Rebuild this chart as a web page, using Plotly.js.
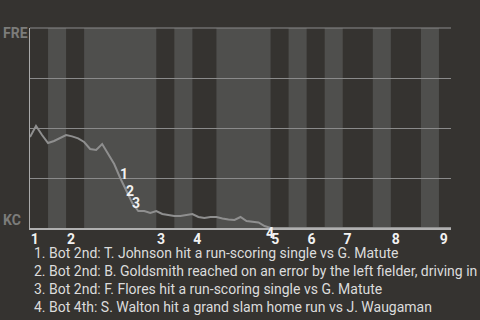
<!DOCTYPE html>
<html>
<head>
<meta charset="utf-8">
<script src="https://cdn.plot.ly/plotly-3.0.1.min.js"></script>
<style>html,body{margin:0;padding:0;background:#353330;}#chart{width:480px;height:320px;}</style>
</head>
<body>
<div id="chart"></div>
<script>
// FRE win probability after each plate appearance (0 = KC wins, 1 = FRE wins)
const winProb = [
  0.455, 0.51, 0.465, 0.425, 0.435, 0.45, 0.465, 0.458, 0.448, 0.43,
  0.395, 0.39, 0.42, 0.37, 0.32, 0.25, 0.185, 0.125, 0.085, 0.085,
  0.075, 0.085, 0.07, 0.065, 0.06, 0.06, 0.065, 0.07, 0.055, 0.05,
  0.055, 0.055, 0.048, 0.042, 0.04, 0.055, 0.035, 0.03, 0.028, 0.01,
  0, 0, 0, 0, 0, 0, 0, 0, 0, 0,
  0, 0, 0, 0, 0, 0, 0, 0, 0, 0,
  0, 0, 0, 0, 0, 0, 0, 0, 0, 0,
  0
];
// half-inning boundaries (plate-appearance index)
const halfInningBounds = [0, 3, 6, 9, 21, 24, 27, 31, 40, 43, 46, 49, 52, 57, 60, 65, 68, 70];
// inning start indices and labels
const inningStarts = [0, 6, 21, 27, 40, 46, 52, 60, 68];
const inningLabels = ["1", "2", "3", "4", "5", "6", "7", "8", "9"];
// key events
const eventIndex = [15, 16, 17, 40];
const eventLabels = ["1", "2", "3", "4"];
const eventTexts = [
  "1. Bot 2nd: T. Johnson hit a run-scoring single vs G. Matute",
  "2. Bot 2nd: B. Goldsmith reached on an error by the left fielder, driving in a run",
  "3. Bot 2nd: F. Flores hit a run-scoring single vs G. Matute",
  "4. Bot 4th: S. Walton hit a grand slam home run vs J. Waugaman"
];
const teamTop = "FRE";
const teamBottom = "KC";

const xs = winProb.map((_, i) => i);
const shapes = [];
for (let k = 0; k < halfInningBounds.length - 1; k++) {
  if (k % 2 === 1) {
    shapes.push({type: 'rect', xref: 'x', yref: 'paper', x0: halfInningBounds[k], x1: halfInningBounds[k + 1],
      y0: 0, y1: 1, fillcolor: '#4f4f4d', line: {width: 0}, layer: 'below'});
  }
}
shapes.push({type: 'line', xref: 'paper', yref: 'paper', x0: 0, x1: 1, y0: 1, y1: 1, line: {color: '#8a8a8a', width: 1}, layer: 'below'});
const evShift = [[4, 4], [4, 0], [4, 0], [-1, -5]];
const annotations = [];
eventIndex.forEach((ix, k) => {
  annotations.push({x: ix, y: winProb[ix], xref: 'x', yref: 'y', text: eventLabels[k], showarrow: false,
    xshift: evShift[k][0], yshift: evShift[k][1], font: {family: 'Roboto', size: 14, color: '#f2f2f2', weight: 'bold'}});
});
annotations.push({x: 0, y: 1, xref: 'paper', yref: 'paper', xanchor: 'center', yanchor: 'middle', xshift: -15, yshift: -5,
  text: teamTop, showarrow: false, font: {family: 'Roboto', size: 14, color: '#7c7c7a', weight: 'bold'}});
annotations.push({x: 0, y: 0, xref: 'paper', yref: 'paper', xanchor: 'center', yanchor: 'middle', xshift: -18, yshift: 8,
  text: teamBottom, showarrow: false, font: {family: 'Roboto', size: 14, color: '#7c7c7a', weight: 'bold'}});
const lineY = [-0.125, -0.215, -0.305, -0.395];
eventTexts.forEach((t, k) => {
  annotations.push({x: 0.005, y: lineY[k], xref: 'paper', yref: 'paper', xanchor: 'left', yanchor: 'middle', text: t,
    showarrow: false, font: {family: 'Roboto', size: 14, color: '#dcdcdc'}});
});

const trace = {x: xs, y: winProb, type: 'scatter', mode: 'lines', line: {color: '#8f8f8f', width: 2}, hoverinfo: 'skip', cliponaxis: false};
const layout = {
  width: 480, height: 320,
  margin: {l: 30, r: 29, t: 28, b: 92},
  paper_bgcolor: '#353330', plot_bgcolor: '#353330',
  showlegend: false,
  xaxis: {range: [0, 70], showgrid: false, zeroline: false, showline: true, linecolor: '#b0b0b0', linewidth: 2,
    tickmode: 'array', tickvals: inningStarts.map(v => v + 0.8), ticktext: inningLabels, ticks: '', ticklabelstandoff: -3,
    tickfont: {family: 'Roboto', size: 14, color: '#f2f2f2', weight: 'bold'}},
  yaxis: {range: [0, 1], showgrid: true, gridcolor: '#8a8a8a', gridwidth: 1, tickvals: [0.25, 0.5, 0.75, 1],
    showticklabels: false, zeroline: false, showline: true, linecolor: '#aaaaaa', linewidth: 1, ticks: ''},
  shapes: shapes,
  annotations: annotations
};
Plotly.newPlot('chart', [trace], layout, {staticPlot: true, displayModeBar: false});
</script>
</body>
</html>
